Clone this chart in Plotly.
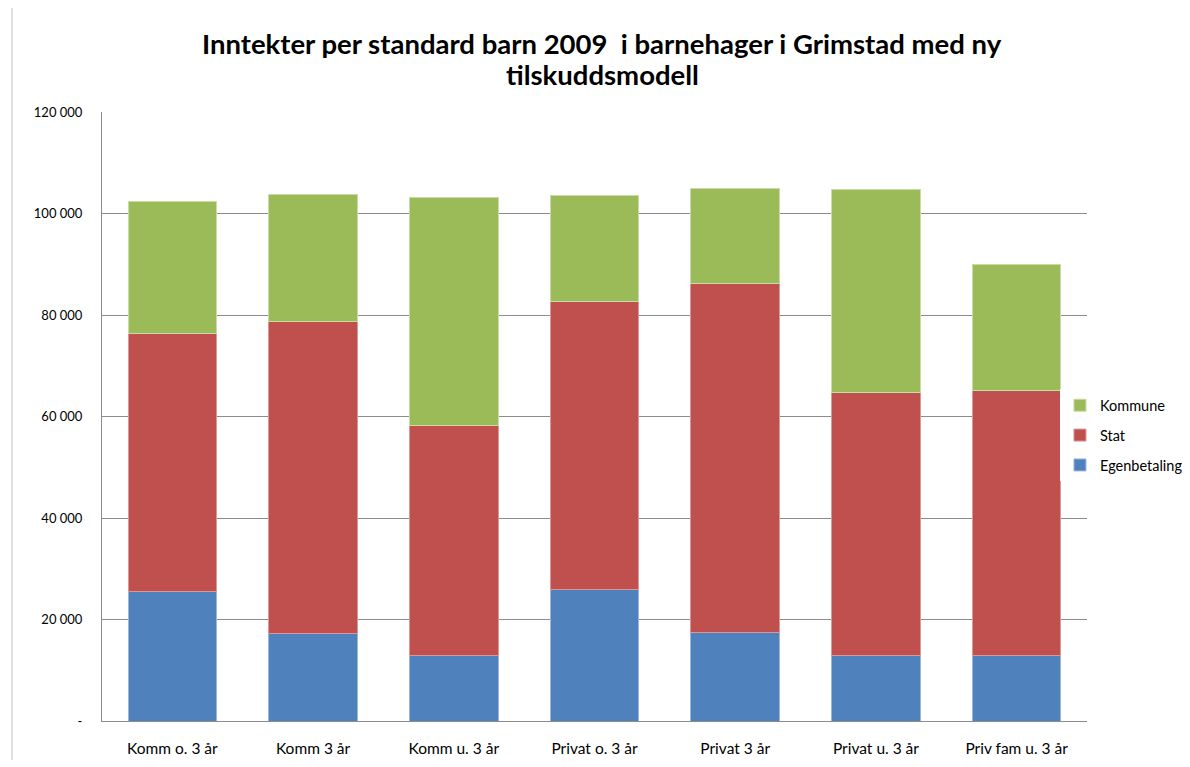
import plotly.graph_objects as go

categories = ["Komm o. 3 år", "Komm 3 år", "Komm u. 3 år", "Privat o. 3 år",
              "Privat 3 år", "Privat u. 3 år", "Priv fam u. 3 år"]
egenbetaling = [25600, 17300, 13000, 26000, 17500, 13000, 13000]
stat = [50800, 61500, 45300, 56600, 68800, 51800, 52200]
kommune = [25900, 25000, 44800, 21000, 18700, 40000, 24800]

tick_vals = [0, 20000, 40000, 60000, 80000, 100000, 120000]
tick_text = ["-", "20 000", "40 000", "60 000", "80 000", "100 000", "120 000"]

title_lines = ["Inntekter per standard barn 2009  i barnehager i Grimstad med ny",
               "tilskuddsmodell"]

FONT = "Lato, 'Open Sans', sans-serif"

fig = go.Figure()
for name, vals, col, edge, rank in [
    ("Egenbetaling", egenbetaling, "#4F81BD", "#9BB7DB", 3),
    ("Stat", stat, "#C0504D", "#DA9896", 2),
    ("Kommune", kommune, "#9BBB59", "#C9DBA6", 1),
]:
    fig.add_trace(go.Bar(name=name, x=categories, y=vals, legendgroup=name,
                         legendrank=rank,
                         marker=dict(color=col, line=dict(color=edge, width=1))))

fig.update_layout(
    barmode="stack",
    bargap=0.37,
    width=1182, height=759,
    paper_bgcolor="white", plot_bgcolor="white",
    margin=dict(l=94, r=103, t=104, b=46, autoexpand=False),
    font=dict(family=FONT, size=14, color="black"),
    legend=dict(traceorder="grouped", xref="container", yref="container",
                x=0.89, xanchor="left", y=0.437, yanchor="middle",
                font=dict(family=FONT, size=14.5), tracegroupgap=8, itemwidth=30),
    showlegend=True,
)
for txt, yy in zip(title_lines, [1.1133, 1.0608]):
    fig.add_annotation(text="<b>" + txt + "</b>", xref="paper", yref="paper",
                       x=0.508, y=yy, xanchor="center", yanchor="middle",
                       showarrow=False, font=dict(family=FONT, size=27.5, color="black"))
fig.update_yaxes(range=[0, 120000], tickvals=tick_vals, ticktext=tick_text,
                 tickfont=dict(size=13),
                 showgrid=True, gridcolor="#8C8C8C", gridwidth=1,
                 showline=True, linecolor="#8C8C8C", linewidth=1,
                 ticks="", ticklabelstandoff=16, automargin=False,
                 zeroline=False, mirror=False)
fig.update_xaxes(showline=True, linecolor="#8C8C8C", linewidth=1,
                 tickfont=dict(size=15.5),
                 ticks="", ticklabelstandoff=13, automargin=False)
fig.add_shape(type="line", xref="paper", yref="paper", x0=-0.0914, x1=-0.0914,
              y0=-0.064, y1=1.184, line=dict(color="#BFBFBF", width=1))

fig.write_html("out.html")
